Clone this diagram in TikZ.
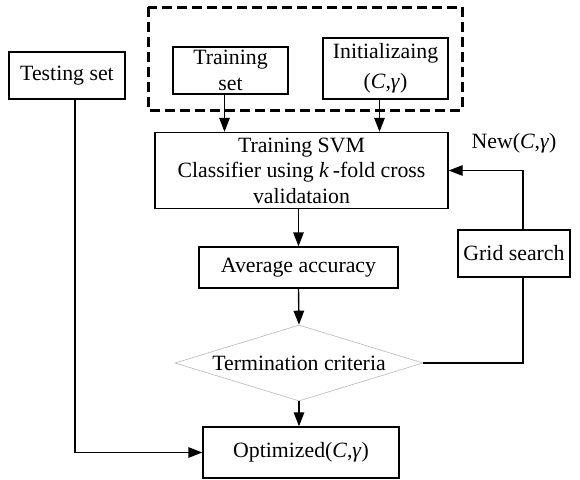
\documentclass[tikz,border=0pt]{standalone}
\usepackage{fontspec}
\setmainfont{Liberation Serif}
\usetikzlibrary{arrows.meta,shapes.geometric,calc}
\begin{document}
\begin{tikzpicture}[x=1pt,y=-1pt,
  txt/.style={font=\fontsize{21.8}{25.5}\selectfont, align=center},
  box/.style={txt, draw, line width=1.4pt, inner sep=0pt},
  arr/.style={-{Triangle[length=14pt,width=10.5pt]}, line width=1.4pt},
  ln/.style={line width=1.4pt}]
\useasboundingbox (0,0) rectangle (580,479);
\fill[white] (0,0) rectangle (580,479);
% dashed group
\draw[line width=3pt, dash pattern=on 10pt off 5pt] (148,7) rectangle (462,110);
\node[box, minimum width=115pt, minimum height=47pt] (tr) at (230.5,70.5) {Training\\set};
\node[box, minimum width=125pt, minimum height=61pt] (init) at (385.5,68.5) {Initializaing\\[4pt](\textit{C},\textit{γ})};
\node[box, minimum width=116pt, minimum height=47pt] (test) at (67,75.5) {Testing set};
\node[box, minimum width=293pt, minimum height=76pt] (svm) at (301.5,170.5) {Training SVM\\Classifier using \textit{k}\,-fold cross\\validataion};
\node[box, minimum width=199pt, minimum height=41pt] (avg) at (298.5,267.5) {Average accuracy};
\node[box, minimum width=112pt, minimum height=47pt] (grid) at (514,253.5) {Grid search};
\node[txt, draw=gray!55, line width=0.6pt, shape=diamond, inner sep=0pt, aspect=3.26, minimum width=248pt, minimum height=76pt] (term) at (299,363) {Termination criteria};
\node[box, minimum width=196pt, minimum height=51pt] (opt) at (301,452.5) {Optimized(\textit{C},\textit{γ})};
\node[txt] (new) at (514,143) {New(\textit{C},\textit{γ})};
% connectors
\coordinate (trout) at ($(tr.south)+(-6,0)$);
\coordinate (initout) at ($(init.south)+(-6,0)$);
\draw[arr] (trout) -- (trout |- svm.north);
\draw[arr] (initout) -- (initout |- svm.north);
\draw[arr] (avg.north |- svm.south) -- (avg.north);
\draw[arr] (avg.south) -- (term.north);
\draw[arr] (term.south) -- (term.south |- opt.north);
\coordinate (gx) at ($(grid.north)+(9,0)$);
\draw[arr] (gx) -- (gx |- svm.east) -- (svm.east);
\draw[ln] (term.east) -- (term.east -| gx) -- (gx |- grid.south);
\coordinate (tx) at ($(test.south)+(8,0)$);
\draw[arr] (tx) -- (tx |- opt.west) -- (opt.west);
\end{tikzpicture}
\end{document}
